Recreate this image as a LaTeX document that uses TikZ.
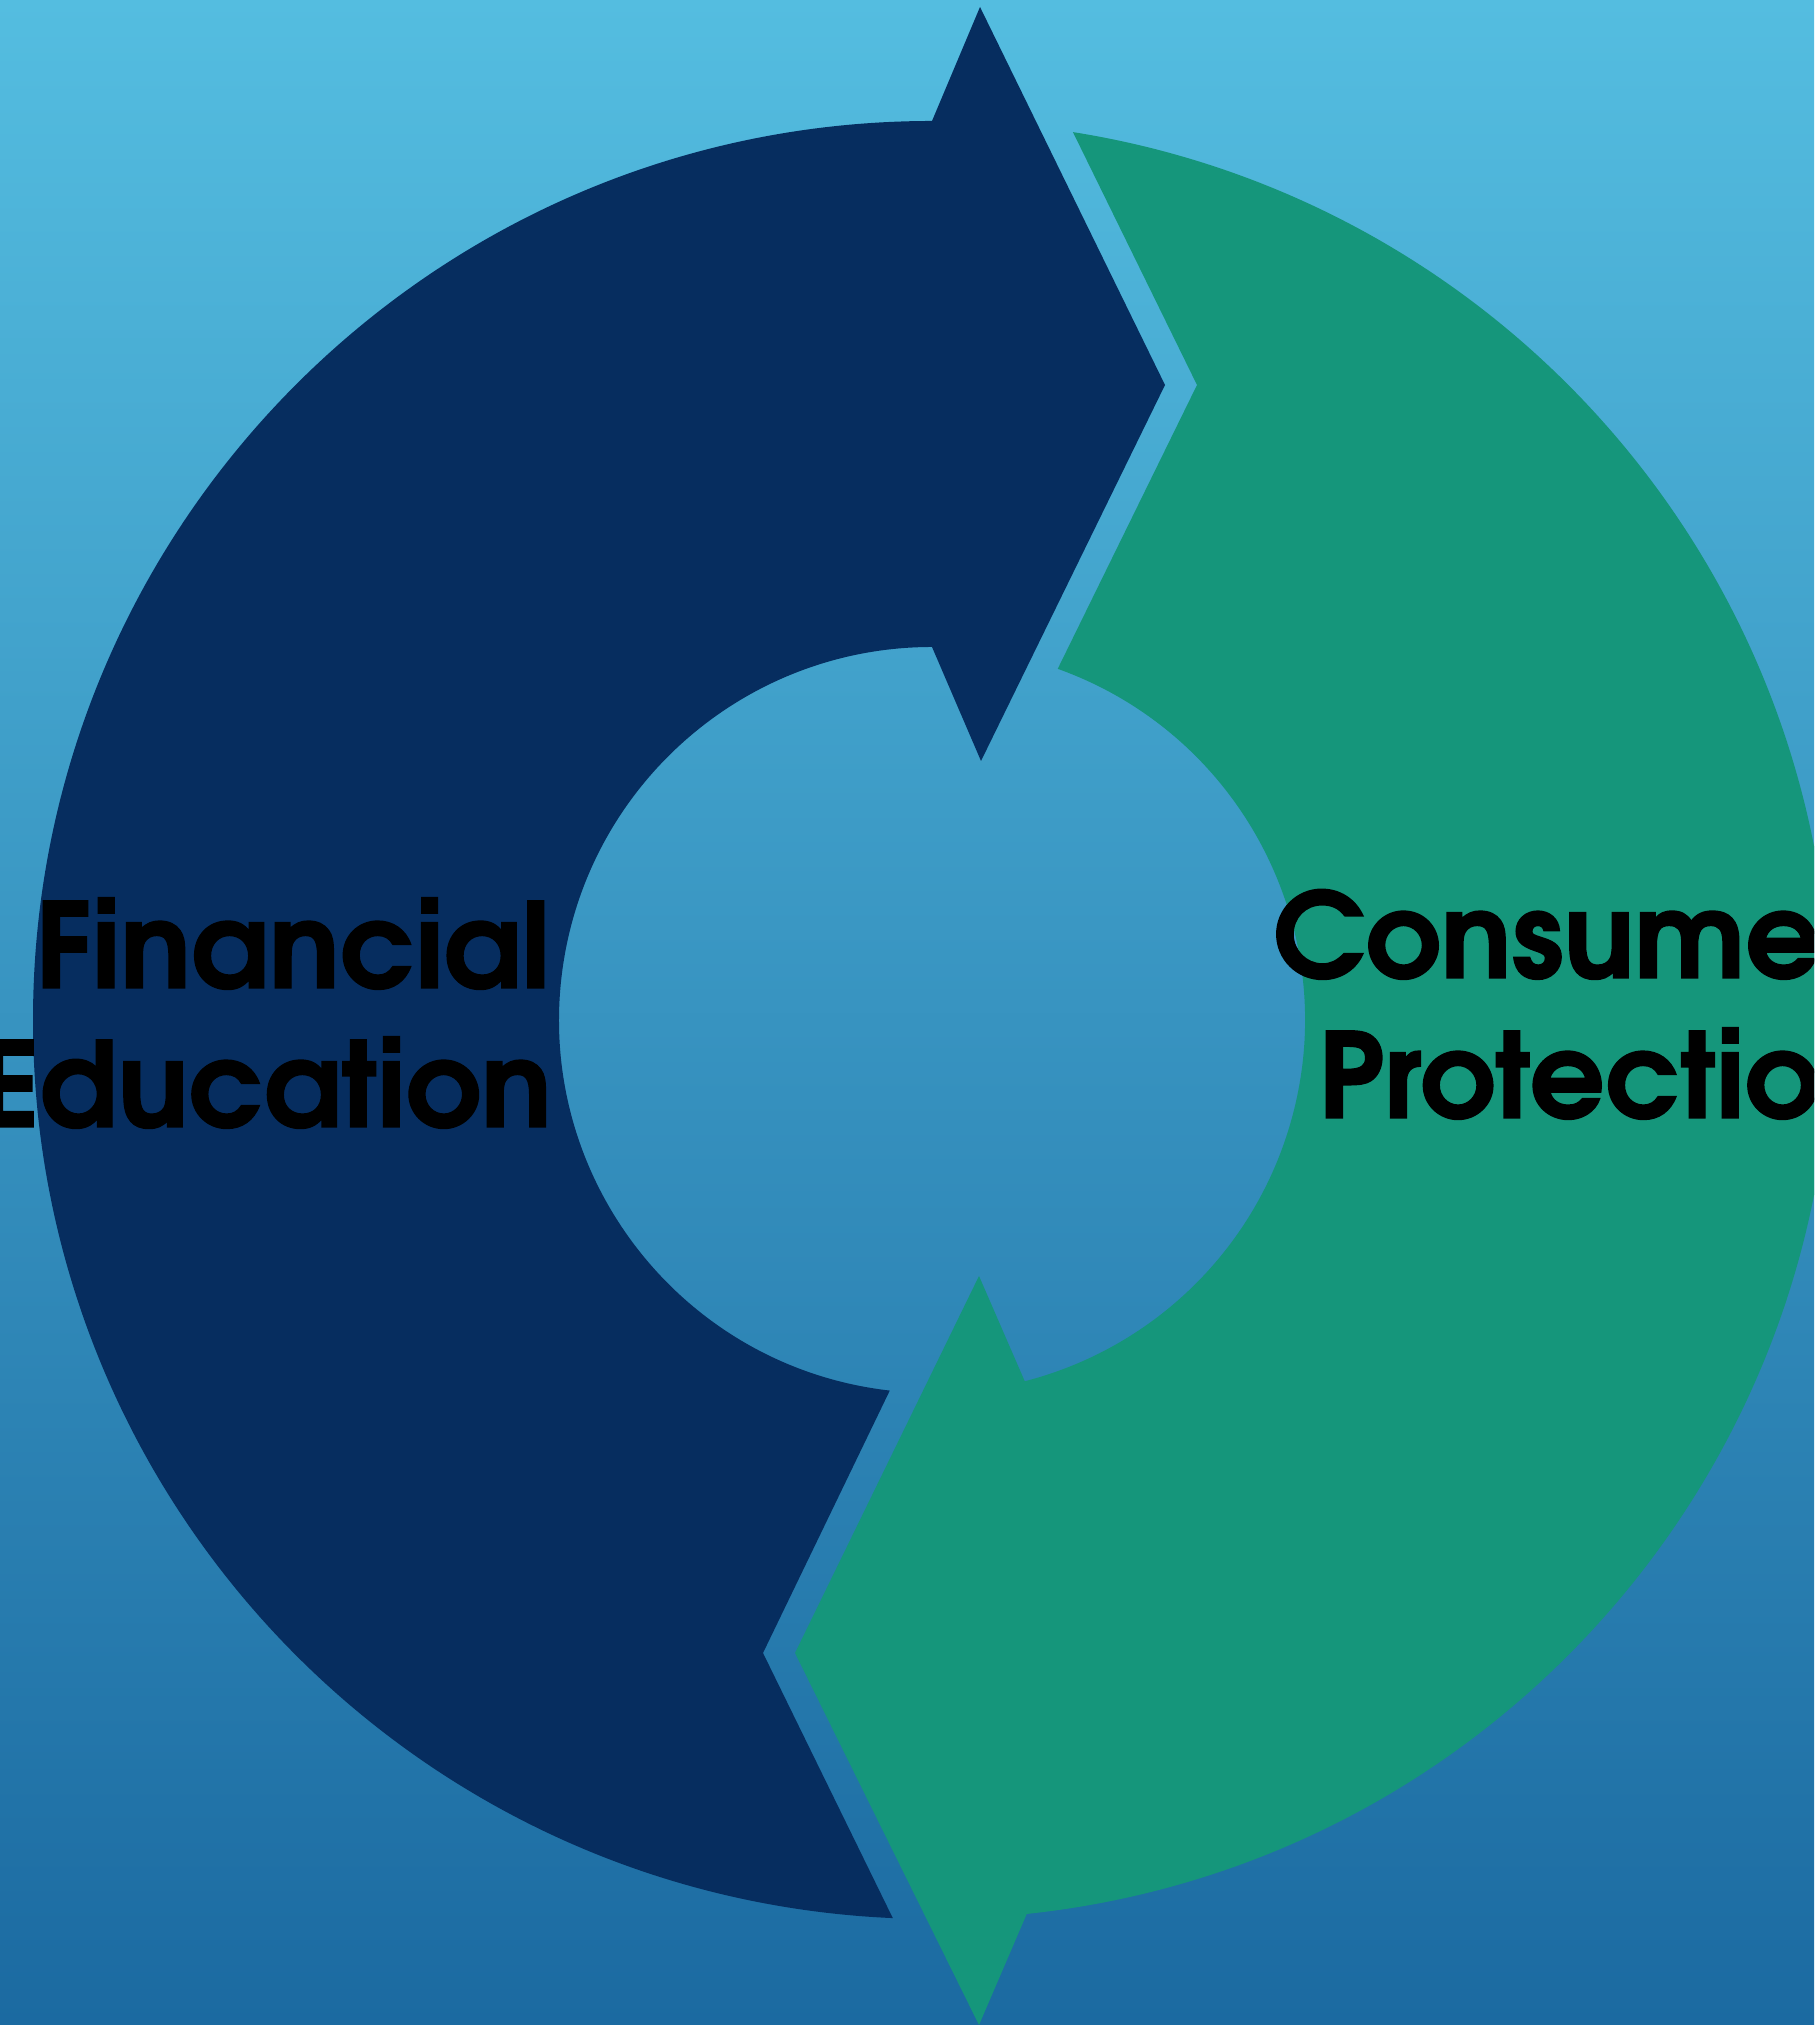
\documentclass[tikz,border=0pt]{standalone}
\usepackage{fontspec}
\newfontfamily\labelfont{texgyreadventor-bold}[Extension=.otf, FakeBold=1.2]
\definecolor{bgtop}{RGB}{84,189,224}
\definecolor{bgbot}{RGB}{27,106,161}
\definecolor{navyarrow}{RGB}{6,45,95}
\definecolor{greenarrow}{RGB}{21,150,123}
\tikzset{
  label/.style={inner sep=0pt, font=\labelfont\fontsize{118}{140}\selectfont, text=black},
}
\begin{document}
\begin{tikzpicture}[x=1pt,y=1pt]
\useasboundingbox (0,0) rectangle (1814,2025);
\clip (0,0) rectangle (1814,2025);
% background gradient
\shade[top color=bgtop, bottom color=bgbot] (0,0) rectangle (1814,2025);
% two circular arrows around a common centre
\begin{scope}[shift={(932,1005)}]
  % left arrow, head at the top pointing right
  \fill[navyarrow] (90:899) arc[start angle=90, end angle=267.5, radius=899]
    -- (-169,-633) -- (263.5:373) arc[start angle=263.5, end angle=90, radius=373]
    -- (49,259) -- (233,635) -- (48,1013) -- cycle;
  % right arrow, head at the bottom pointing left
  \fill[greenarrow] (80.98:899) -- (265,635) -- (70.3:373)
    arc[start angle=70.3, end angle=-75.6, radius=373]
    -- (47,-256) -- (-137,-633) -- (47,-1005) -- (-83.95:899)
    arc[start angle=-83.95, end angle=80.98, radius=899] -- cycle;
\end{scope}
% labels
\node[label, anchor=base east] (fin) at (550,1037) {Financial};
\node[label, anchor=base east] (edu) at (552,898) {Education};
\node[label, anchor=base west] (con) at (1273,1047) {Consumer};
\node[label, anchor=base west] (pro) at (1318,907) {Protection};
\end{tikzpicture}
\end{document}
